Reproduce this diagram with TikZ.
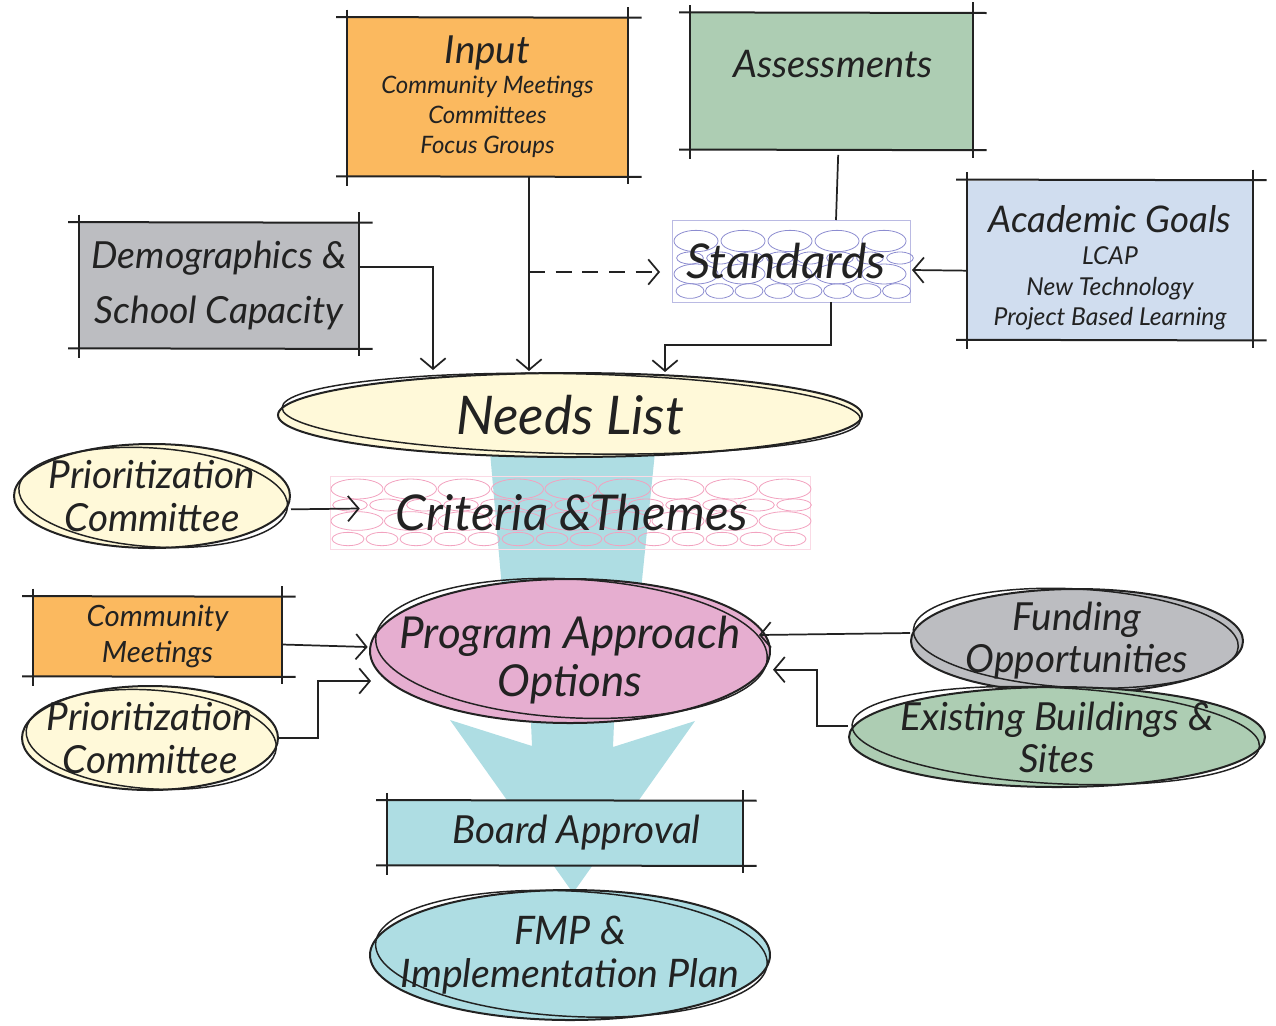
\documentclass[tikz,border=0pt]{standalone}
\usepackage{fontspec}
\setmainfont{Lato}
\usetikzlibrary{arrows.meta,shapes.geometric}
\definecolor{ink}{HTML}{222222}
\definecolor{corange}{HTML}{FBB95F}
\definecolor{cgreen}{HTML}{ADCDB3}
\definecolor{cgray}{HTML}{BCBDC1}
\definecolor{cblue}{HTML}{D0DDEF}
\definecolor{cyellow}{HTML}{FFF9D9}
\definecolor{cpink}{HTML}{E6AED0}
\definecolor{cteal}{HTML}{AEDDE3}
\definecolor{cpurple}{HTML}{8C8CD0}
\definecolor{crose}{HTML}{F2A2BF}
\newcommand\skframe[1]{%
  \draw[skline] ([xshift=-8pt,yshift=0.5pt]#1.north west) -- ([xshift=10pt]#1.north east);
  \draw[skline] ([xshift=-8pt]#1.south west) -- ([xshift=10pt,yshift=-0.5pt]#1.south east);
  \draw[skline] ([yshift=6pt]#1.north west) -- ([yshift=-7pt]#1.south west);
  \draw[skline] ([yshift=8pt]#1.north east) -- ([yshift=-6pt]#1.south east);}
\newcommand\fs[2]{\fontsize{#1}{#2}\selectfont}
\begin{document}
\begin{tikzpicture}[x=0.75pt,y=-0.75pt,
  font=\itshape,
  skbox/.style={rectangle, inner sep=0pt, align=center, text=ink},
  skline/.style={draw=ink, line width=1.5pt},
  blob/.style={ellipse, draw=ink, line width=1.5pt, inner xsep=-30pt, inner ysep=-12pt, align=center, text=ink},
  blobline/.style={draw=ink, line width=1.1pt},
  conn/.style={draw=ink, line width=1.3pt, -{Straight Barb[length=8pt,width=19pt,line width=1.3pt]}},
  plain/.style={draw=ink, line width=1.3pt},
  stdb/.style={draw=cpurple, line width=0.6pt},
  crb/.style={draw=crose, line width=0.6pt}]
\path[use as bounding box] (0,0) rectangle (1276,1025);

% big teal flow arrows (background)
\fill[cteal] (490,452) -- (655,452) -- (640,600) -- (503,600) -- cycle;
\fill[cteal] (530,700) -- (615,700) -- (613,747) -- (695,721) -- (573,893) -- (450,720) -- (532,746) -- cycle;

% boxes
\node[skbox, fill=corange, minimum width=210.75pt, minimum height=118.5pt, font=\itshape\fs{18}{22.5}] (inp) at (487.5,97)
  {{\fs{29}{22.5}Input}\\Community Meetings\\Committees\\Focus Groups};
\skframe{inp}
\node[skbox, fill=cgreen, minimum width=212.25pt, minimum height=102pt, anchor=north] (ass) at (831.5,13) {};
\node[text=ink, font=\itshape\fs{28.5}{30}] at (833,64) {Assessments};
\skframe{ass}
\node[skbox, fill=cgray, minimum width=210pt, minimum height=93.75pt, font=\itshape\fs{28}{41}] (demo) at (219,285.5)
  {Demographics \&\\School Capacity};
\skframe{demo}
\node[skbox, fill=cblue, minimum width=214.5pt, minimum height=119.25pt, font=\itshape\fs{18.5}{23}] (acad) at (1110,260)
  {{\fs{27.5}{23}\rule{0pt}{32pt}Academic Goals}\\[1pt]LCAP\\New Technology\\Project Based Learning};
\skframe{acad}
\node[skbox, fill=cteal, minimum width=267pt, minimum height=48pt, font=\itshape\fs{29}{30}] (board) at (565,833) {\hspace*{17pt}Board Approval};
\skframe{board}
\node[skbox, fill=corange, minimum width=186.75pt, minimum height=59.25pt, font=\itshape\fs{22}{27}] (comm) at (157.5,636.5)
  {Community\\Meetings};
\skframe{comm}

% patterned boxes
\draw[cpurple!60, line width=0.6pt] (672,220) rectangle (910,302);
\foreach \i in {0,...,4} \draw[stdb] ({696+47*\i},241) ellipse (16.5pt and 8pt);
\foreach \i in {0,...,7} \draw[stdb] ({690+30*\i},258) ellipse (10pt and 4.5pt);
\foreach \i in {0,...,4} \draw[stdb] ({696+47*\i},274) ellipse (16.5pt and 7.5pt);
\foreach \i in {0,...,7} \draw[stdb] ({690+29.5*\i},291) ellipse (10.5pt and 5.5pt);
\draw[crose!40, line width=0.6pt] (330,476) rectangle (810,549);
\foreach \i in {0,...,8} \draw[crb] ({357+53.5*\i},489) ellipse (19.5pt and 7.5pt);
\foreach \i in {0,...,12} \draw[crb] ({350+37*\i},505) ellipse (13pt and 4.5pt);
\foreach \i in {0,...,8} \draw[crb] ({357+53.5*\i},521) ellipse (19.5pt and 7pt);
\foreach \i in {0,...,13} \draw[crb] ({348+34*\i},539) ellipse (12pt and 5pt);
\node[text=ink, font=\itshape\fs{36}{40}, minimum width=178.5pt, minimum height=61.5pt, inner sep=0pt] (std) at (786,261) {Standards};
\node[text=ink, font=\itshape\fs{37}{40}, minimum width=360pt, minimum height=54.75pt, inner sep=0pt] (crit) at (572,512.5) {Criteria \&Themes};

% blobs
\node[blob, fill=cyellow, minimum width=438pt, minimum height=63pt, font=\itshape\fs{40}{44}] (needs) at (570,415) {Needs List};
\draw[blobline, rotate around={-1.2:(needs.center)}] ([shift={(1pt,1pt)}]needs.center) ellipse (217pt and 30pt);
\node[blob, fill=cyellow, minimum width=207pt, minimum height=78pt, font=\itshape\fs{29}{32}] (prio1) at (152,496) {Prioritization\\Committee};
\draw[blobline, rotate around={-4:(prio1.center)}] ([shift={(1pt,-1pt)}]prio1.center) ellipse (101pt and 37pt);
\node[blob, fill=cyellow, minimum width=192pt, minimum height=78pt, font=\itshape\fs{29}{32}] (prio2) at (150,738) {Prioritization\\Committee};
\draw[blobline, rotate around={-4:(prio2.center)}] ([shift={(1pt,-1pt)}]prio2.center) ellipse (94pt and 37pt);
\node[blob, fill=cpink, minimum width=300pt, minimum height=108pt, font=\itshape\fs{33}{36}] (prog) at (570,651) {\rule{0pt}{38pt}Program Approach\\Options};
\draw[blobline, rotate around={-3:(prog.center)}] ([shift={(1pt,2pt)}]prog.center) ellipse (147pt and 52pt);
\node[blob, fill=cgray, minimum width=249pt, minimum height=78pt, font=\itshape\fs{29}{31.5}] (fund) at (1077,641) {Funding\\Opportunities};
\draw[blobline, rotate around={-3:(fund.center)}] ([shift={(-1pt,2pt)}]fund.center) ellipse (122pt and 37pt);
\node[blob, fill=cgreen, minimum width=312pt, minimum height=75pt, font=\itshape\fs{29}{31.5}] (exist) at (1057,737) {Existing Buildings \&\\Sites};
\draw[blobline, rotate around={-3:(exist.center)}] ([shift={(-1pt,1pt)}]exist.center) ellipse (153pt and 36pt);
\node[blob, fill=cteal, minimum width=300pt, minimum height=97.5pt, font=\itshape\fs{29.5}{32}] (fmp) at (570,955) {FMP \&\\Implementation Plan};
\draw[blobline, rotate around={-3:(fmp.center)}] ([shift={(1pt,1pt)}]fmp.center) ellipse (147pt and 47pt);

% connectors
\coordinate (nIn) at (529,371);
\coordinate (nDem) at (433,370);
\coordinate (nStd) at (665,372);
\coordinate (dStart) at (529,272);
\draw[conn] (inp.south -| nIn) -- (nIn);
\draw[conn, dashed, dash pattern=on 12pt off 8pt] (dStart) -- (660,272);
\draw[plain] ([xshift=5pt,yshift=-4pt]ass.south) -- (836,220);
\draw[conn] (831,302) -- ++(0,43) -| (nStd);
\draw[conn] ([yshift=-8pt]acad.west) -- (912,270);
\draw[conn] ([yshift=14pt]demo.east) -| (nDem);
\draw[conn] ([yshift=-10pt]prio1.east) -- ([xshift=21pt,yshift=3pt]crit.west);
\draw[conn] ([yshift=-6pt]comm.east) -- ([xshift=-1pt,yshift=3pt]prog.west);
\draw[conn] (prio2.east) -- ++(39,0) |- ([xshift=1.5pt,yshift=-22.5pt]prog.west);
\draw[conn] ([yshift=6pt]fund.west) -- ([xshift=-9pt,yshift=12pt]prog.east);
\draw[conn] ([yshift=8pt]exist.west) -- ++(-31,0) |- ([xshift=1.5pt,yshift=-14pt]prog.east);
\end{tikzpicture}
\end{document}
